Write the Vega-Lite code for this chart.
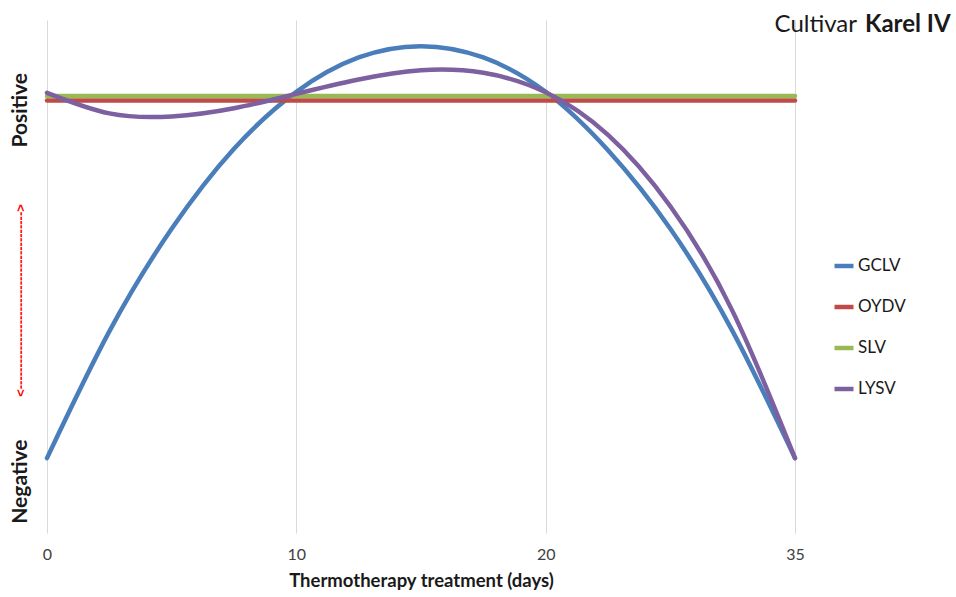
{
  "$schema": "https://vega.github.io/schema/vega-lite/v6.json",
  "width": 748,
  "height": 513,
  "autosize": {"type": "none"},
  "padding": {"left": 47, "top": 20, "right": 161, "bottom": 64},
  "background": "white",
  "config": {"view": {"stroke": null}, "font": "Lato"},
  "datasets": {
    "curves": [
      {"series": "GCLV", "t": 0, "v": 14.6},
      {"series": "GCLV", "t": 0.25, "v": 39.3},
      {"series": "GCLV", "t": 0.5, "v": 59.3},
      {"series": "GCLV", "t": 0.75, "v": 74.9},
      {"series": "GCLV", "t": 1, "v": 86.0},
      {"series": "GCLV", "t": 1.25, "v": 92.7},
      {"series": "GCLV", "t": 1.5, "v": 94.9},
      {"series": "GCLV", "t": 1.75, "v": 92.7},
      {"series": "GCLV", "t": 2, "v": 86.0},
      {"series": "GCLV", "t": 2.25, "v": 74.6},
      {"series": "GCLV", "t": 2.5, "v": 59.3},
      {"series": "GCLV", "t": 2.75, "v": 39.3},
      {"series": "GCLV", "t": 3, "v": 14.6},
      {"series": "OYDV", "t": 0, "v": 84.3},
      {"series": "OYDV", "t": 1, "v": 84.3},
      {"series": "OYDV", "t": 2, "v": 84.3},
      {"series": "OYDV", "t": 3, "v": 84.3},
      {"series": "SLV", "t": 0, "v": 85.2},
      {"series": "SLV", "t": 1, "v": 85.2},
      {"series": "SLV", "t": 2, "v": 85.2},
      {"series": "SLV", "t": 3, "v": 85.2},
      {"series": "LYSV", "t": 0, "v": 85.8},
      {"series": "LYSV", "t": 0.25, "v": 81.8},
      {"series": "LYSV", "t": 0.5, "v": 81.2},
      {"series": "LYSV", "t": 0.75, "v": 82.8},
      {"series": "LYSV", "t": 1, "v": 85.6},
      {"series": "LYSV", "t": 1.25, "v": 88.4},
      {"series": "LYSV", "t": 1.5, "v": 90.2},
      {"series": "LYSV", "t": 1.75, "v": 89.7},
      {"series": "LYSV", "t": 2, "v": 85.9},
      {"series": "LYSV", "t": 2.25, "v": 77.6},
      {"series": "LYSV", "t": 2.5, "v": 63.7},
      {"series": "LYSV", "t": 2.75, "v": 43.2},
      {"series": "LYSV", "t": 3, "v": 14.6}
    ]
  },
  "layer": [
    {
      "data": {"name": "curves"},
      "mark": {"type": "line", "interpolate": "natural", "strokeWidth": 4.5, "strokeCap": "round"},
      "encoding": {
        "x": {
          "field": "t",
          "type": "quantitative",
          "scale": {"domain": [0, 3], "nice": false, "zero": false},
          "axis": {
            "values": [0, 1, 2, 3],
            "labelExpr": "datum.value == 0 ? '0' : datum.value == 1 ? '10' : datum.value == 2 ? '20' : '35'",
            "title": "Thermotherapy treatment (days)",
            "grid": true,
            "gridColor": "#d9d9d9",
            "gridWidth": 1,
            "domain": false,
            "ticks": false,
            "labelFlush": false,
            "labelPadding": 13,
            "labelFontSize": 16,
            "labelColor": "#404040",
            "titleFontSize": 18.5,
            "titleFontWeight": "bold",
            "titleColor": "#1a1a1a",
            "titlePadding": 9
          }
        },
        "y": {
          "field": "v",
          "type": "quantitative",
          "scale": {"domain": [0, 100], "nice": false},
          "axis": {
            "values": [10.1, 82.5],
            "labelExpr": "datum.value > 50 ? 'Positive' : 'Negative'",
            "labelAngle": 270,
            "labelAlign": "center",
            "labelBaseline": "alphabetic",
            "labelPadding": 21,
            "labelFontSize": 21,
            "labelFontWeight": "bold",
            "labelColor": "#1a1a1a",
            "labelOverlap": false,
            "domain": false,
            "ticks": false,
            "grid": false,
            "title": "<----------------------------------------->",
            "titleAngle": 270,
            "titleX": -27,
            "titleY": 280,
            "titleAlign": "center",
            "titleBaseline": "middle",
            "titleColor": "#ff0000",
            "titleFont": "Liberation Sans",
            "titleFontSize": 13,
            "titleFontWeight": "bold"
          }
        },
        "color": {
          "field": "series",
          "type": "nominal",
          "sort": ["GCLV", "OYDV", "SLV", "LYSV"],
          "scale": {
            "domain": ["GCLV", "OYDV", "SLV", "LYSV"],
            "range": ["#4a7ebb", "#be4b48", "#98b954", "#7d60a0"]
          },
          "legend": {
            "orient": "none",
            "legendX": 785,
            "legendY": 234,
            "title": null,
            "symbolType": "stroke",
            "symbolSize": 361,
            "symbolStrokeWidth": 4.5,
            "labelFontSize": 17,
            "labelColor": "#1a1a1a",
            "rowPadding": 20,
            "labelOffset": 2
          }
        }
      }
    },
    {
      "data": {"values": [{"label": "Cultivar"}]},
      "mark": {"type": "text", "align": "right", "baseline": "alphabetic", "fontSize": 24, "color": "#1a1a1a", "dx": 62},
      "encoding": {
        "x": {"datum": 3},
        "y": {"datum": 97.7},
        "text": {"field": "label"}
      }
    },
    {
      "data": {"values": [{"label": "Karel IV"}]},
      "mark": {"type": "text", "align": "left", "baseline": "alphabetic", "fontSize": 24, "fontWeight": "bold", "color": "#1a1a1a", "dx": 70},
      "encoding": {
        "x": {"datum": 3},
        "y": {"datum": 97.7},
        "text": {"field": "label"}
      }
    }
  ]
}
